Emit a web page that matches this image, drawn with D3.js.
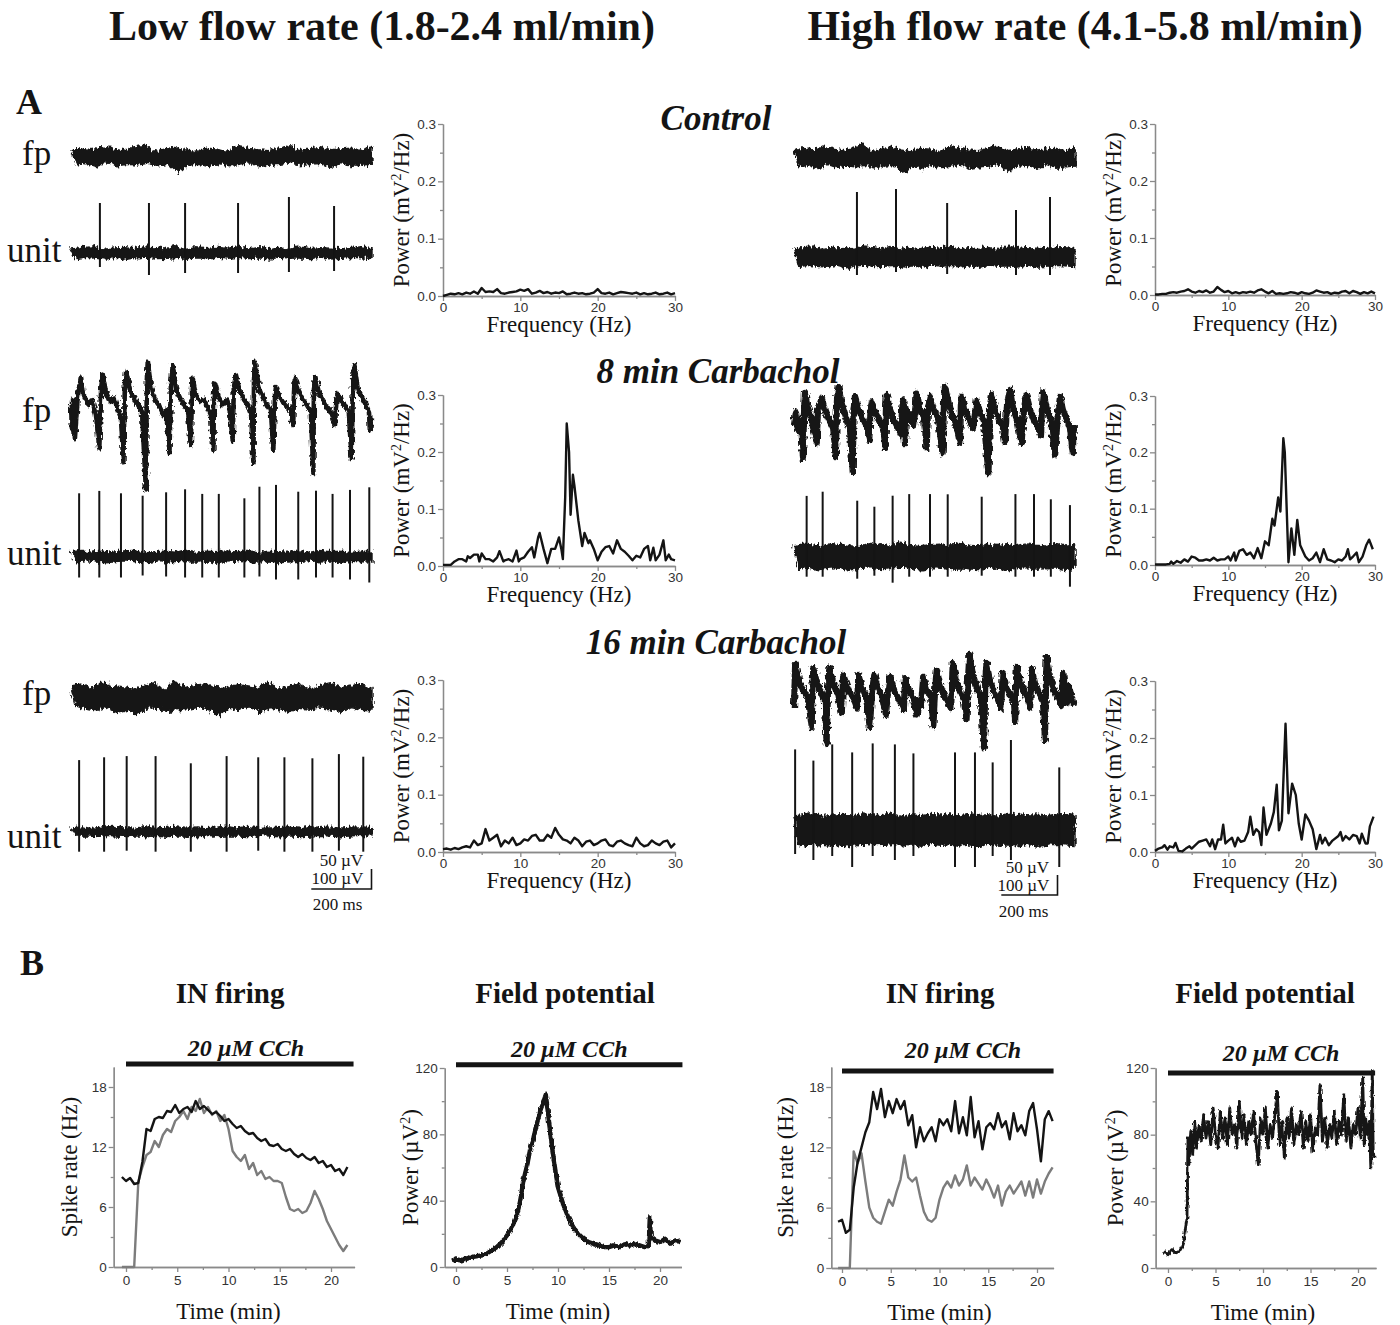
<!DOCTYPE html>
<html>
<head>
<meta charset="utf-8">
<title>Carbachol oscillations vs flow rate</title>
<script src="https://cdn.jsdelivr.net/npm/d3@7/dist/d3.min.js"></script>
<style>
  body { margin: 0; background: #fff; }
</style>
</head>
<body>
<svg id="fig" width="1400" height="1325"></svg>
<script>
// ---------- data ----------
// A: raw traces, 1 s sweeps, in uV.
// Noise bands: interleaved upper/lower envelope samples across the sweep.
var lowCtrlFp = [15,-20,22,-16,18,-24,26,-14,20,-22,16,-18,24,-20,30,-16,14,-22,20,-18,24,-40,18,-20,14,-18,22,-24,20,-16,12,-22,26,-18,22,-14,18,-24,16,-20,22,-18,28,-14,16,-22,20,-18,24,-16,18,-26,20,-14,22,-24,16,-20,24,-18];
var lowCtrlUnit = [20,-28,26,-22,30,-26,18,-30,24,-20,28,-32,22,-24,30,-20,26,-28,20,-26,32,-22,18,-28,26,-24,22,-30,28,-20,24,-26,30,-22,20,-28,26,-24,22,-30,28,-20,18,-26,30,-24,22,-28,26,-20,24,-30,20,-26,28,-22,30,-24,22,-28];
var lowCtrlSpikeT = [96, 259, 379, 555, 724, 874];
var lowCtrlSpikeUp = [250, 250, 250, 250, 280, 235];
var lowCtrlSpikeDown = [-70, -110, -100, -100, -95, -90];

var highCtrlFp = [18,-22,24,-18,20,-26,30,-16,22,-24,18,-20,26,-22,34,-18,16,-24,22,-20,28,-18,20,-36,16,-20,24,-26,22,-18,14,-24,28,-20,24,-16,20,-26,18,-22,24,-20,30,-16,18,-34,22,-20,26,-18,20,-28,22,-16,24,-26,18,-22,26,-20];
var highCtrlUnit = [40,-48,46,-42,50,-46,38,-52,44,-40,48,-54,42,-44,52,-40,46,-48,40,-46,54,-42,38,-50,46,-44,42,-52,48,-40,44,-46,52,-42,40,-50,46,-44,42,-52,48,-40,38,-46,54,-44,42,-50,46,-40,44,-52,40,-46,50,-42,52,-44,42,-48];
var highCtrlSpikeT = [224, 363, 545, 790, 911];
var highCtrlSpikeUp = [325, 340, 270, 235, 300];
var highCtrlSpikeDown = [-90, -75, -85, -90, -90];

var low8FpT = [0,3,7,13,23,33,43,56,70,83,94,100,105,116,130,143,156,166,174,179,183,196,209,223,236,249,252,255,266,279,292,306,316,327,332,338,349,362,375,389,398,402,404,415,429,442,455,465,473,475,478,492,505,518,528,537,541,548,561,575,588,598,606,608,611,625,638,651,664,672,678,681,694,711,728,738,741,744,757,771,784,797,805,807,811,824,837,850,864,877,882,886,897,910,923,932,937,941,953,967,980,990,993,1000];
var low8FpV = [20,-38,33,-63,45,88,45,20,33,-5,-88,58,98,53,28,38,8,-13,-123,70,103,58,38,20,3,-193,83,128,63,33,20,-5,8,-100,70,120,58,38,20,3,-80,58,88,45,28,33,13,-5,-93,45,75,38,20,33,3,-68,63,95,53,33,20,3,-125,83,128,63,38,20,8,-93,45,65,38,20,8,-30,53,88,53,33,20,3,-150,58,90,50,33,13,3,-30,33,50,28,20,3,-113,83,120,58,38,20,3,-43,-13];
var low8Unit = [24,-26,30,-20,22,-28,26,-32,20,-24,28,-22,30,-26,18,-30,24,-20,26,-28,22,-24,30,-26,20,-28,26,-22,24,-30,28,-20,22,-26,30,-24,18,-28,26,-22,24,-30,20,-26,28,-24,22,-20,30,-28,24,-22,26,-30,20,-24,28,-26,22,-28];
var low8SpikeT = [27, 94, 166, 238, 316, 379, 436, 491, 576, 626, 681, 755, 814, 869, 927, 991];
var low8SpikeUp = [316, 328, 316, 304, 321, 336, 313, 313, 291, 349, 358, 324, 329, 313, 333, 346];
var low8SpikeDown = [-105, -105, -105, -95, -100, -105, -105, -105, -105, -100, -115, -115, -105, -105, -115, -130];

var high8FpT = [0,7,14,25,32,36,39,50,61,71,81,85,99,110,125,139,149,153,158,171,185,199,209,212,217,231,246,260,268,272,277,288,303,317,326,327,330,342,356,370,381,384,389,395,399,413,427,432,437,448,463,472,477,484,498,513,529,534,537,552,566,580,591,594,597,609,623,637,646,650,662,676,692,698,704,715,730,744,751,758,769,779,794,810,819,828,840,854,868,879,883,887,900,915,929,940,947,957,972,982,992,996];
var high8FpV = [-13,20,-25,0,-95,25,68,30,5,-25,-58,25,55,25,0,-20,-93,50,83,38,5,-20,-130,25,60,25,0,-20,-50,20,45,20,0,-20,-70,25,63,25,0,-20,-38,25,50,-58,30,5,-13,30,68,30,0,-70,30,58,25,0,-83,50,83,38,5,-20,-58,38,58,25,0,-20,25,50,20,-5,-133,38,63,25,0,-20,-55,38,75,30,0,-58,30,63,25,0,-20,-38,38,70,30,0,-88,25,58,25,0,-20,-83,-13];
var high8Unit = [55,-60,62,-52,58,-66,50,-58,64,-54,60,-70,52,-62,58,-50,66,-60,54,-64,60,-56,72,-52,56,-62,50,-66,60,-54,62,-58,52,-64,68,-56,58,-60,54,-66,62,-52,56,-62,60,-70,50,-58,64,-54,58,-62,54,-60,66,-56,60,-64,52,-58];
var high8SpikeT = [45, 102, 225, 286, 351, 410, 484, 547, 668, 788, 854, 914, 982];
var high8SpikeUp = [304, 325, 280, 250, 305, 313, 313, 312, 300, 313, 313, 287, 258];
var high8SpikeDown = [-100, -100, -110, -95, -130, -100, -100, -100, -95, -100, -100, -100, -150];

var low16Fp = [30,-20,35,-28,24,-32,40,-22,28,-36,26,-30,22,-40,30,-24,38,-26,20,-34,42,-28,26,-30,32,-22,36,-30,28,-44,24,-26,34,-28,30,-22,26,-36,40,-24,22,-30,28,-34,36,-26,24,-28,32,-22,38,-30,26,-34,30,-24,36,-28,24,-30];
var low16Unit = [18,-22,24,-20,16,-24,22,-18,26,-22,20,-24,18,-20,24,-26,22,-18,20,-24,26,-20,18,-22,24,-26,20,-18,22,-24,28,-20,18,-22,26,-24,20,-18,24,-22,20,-26,22,-20,18,-24,26,-22,20,-18,24,-22,18,-26,22,-20,24,-18,20,-22];
var low16SpikeT = [27, 110, 185, 281, 398, 517, 622, 709, 802, 890, 971];
var low16SpikeUp = [358, 372, 378, 378, 342, 378, 372, 372, 367, 388, 375];
var low16SpikeDown = [-100, -100, -95, -100, -100, -100, -95, -100, -100, -95, -100];

var high16FpT = [0,4,18,32,50,63,66,69,82,96,110,116,121,126,139,153,170,173,175,189,203,217,224,229,242,256,270,278,286,299,313,327,335,342,356,370,384,391,395,409,423,437,441,452,460,473,488,496,502,508,520,534,548,559,565,577,591,605,614,619,624,637,651,665,676,681,685,697,712,726,737,743,754,769,783,787,790,793,804,819,833,840,846,858,872,886,893,897,899,911,925,940,950,958,971,975,989,996];
var high16FpV = [-45,63,25,0,-20,-93,13,55,20,-5,-25,-133,0,55,20,-5,-58,0,38,10,-13,-30,-45,38,5,-15,-93,0,38,5,-15,-63,0,33,0,-20,-38,-50,30,0,-20,-63,-25,-38,33,0,-20,-88,0,50,13,-13,-33,-45,68,25,-5,-25,-75,25,88,38,5,-20,-143,25,68,25,-5,-25,-45,43,10,-13,-30,-80,13,58,20,-5,-25,-45,55,15,-10,-30,-125,25,83,33,0,-20,-40,43,-33,13,-20,-38];
var high16Unit = [70,-78,76,-70,82,-74,68,-80,74,-72,78,-84,70,-74,80,-70,76,-78,72,-76,84,-72,68,-80,76,-74,72,-82,78,-70,74,-76,82,-72,70,-80,76,-74,72,-82,78,-70,68,-76,84,-74,72,-80,76,-70,74,-82,70,-76,80,-72,82,-74,72,-78];
var high16SpikeT = [4, 69, 136, 207, 280, 359, 425, 573, 644, 707, 772, 944];
var high16SpikeUp = [403, 347, 428, 388, 433, 428, 383, 388, 388, 338, 450, 313];
var high16SpikeDown = [-120, -150, -130, -185, -130, -150, -130, -185, -185, -130, -150, -185];

var scaleBarFpUv = 50, scaleBarUnitUv = 100, scaleBarMs = 200;

// A: power spectra (Hz, mV^2/Hz)
var halfHz = [0,0.5,1,1.5,2,2.5,3,3.5,4,4.5,5,5.5,6,6.5,7,7.5,8,8.5,9,9.5,10,10.5,11,11.5,12,12.5,13,13.5,14,14.5,15,15.5,16,16.5,17,17.5,18,18.5,19,19.5,20,20.5,21,21.5,22,22.5,23,23.5,24,24.5,25,25.5,26,26.5,27,27.5,28,28.5,29,29.5,30];
var lowCtrlPow = [0,0.002,0.004,0.003,0.005,0.003,0.006,0.004,0.008,0.004,0.014,0.007,0.008,0.007,0.012,0.005,0.004,0.006,0.007,0.008,0.011,0.009,0.012,0.004,0.006,0.009,0.005,0.007,0.004,0.006,0.005,0.008,0.003,0.004,0.006,0.004,0.005,0.003,0.004,0.006,0.012,0.005,0.004,0.006,0.003,0.005,0.007,0.006,0.005,0.004,0.006,0.003,0.005,0.003,0.004,0.006,0.003,0.004,0.006,0.003,0.005];
var highCtrlPow = [0.001,0.001,0.002,0.002,0.004,0.005,0.004,0.006,0.007,0.010,0.006,0.004,0.007,0.005,0.008,0.004,0.006,0.014,0.009,0.005,0.007,0.003,0.005,0.003,0.005,0.004,0.006,0.004,0.008,0.010,0.006,0.003,0.007,0.002,0.003,0.002,0.003,0.005,0.004,0.002,0.005,0.003,0.002,0.004,0.008,0.006,0.004,0.005,0.002,0.004,0.003,0.006,0.007,0.003,0.007,0.005,0.002,0.005,0.003,0.006,0.003];
var low16Pow = [0.005,0.006,0.004,0.007,0.005,0.008,0.01,0.008,0.02,0.012,0.015,0.04,0.02,0.025,0.03,0.01,0.02,0.015,0.025,0.012,0.015,0.022,0.02,0.028,0.03,0.02,0.02,0.03,0.025,0.042,0.03,0.022,0.02,0.015,0.025,0.02,0.01,0.018,0.02,0.012,0.015,0.02,0.022,0.012,0.01,0.018,0.02,0.015,0.012,0.01,0.025,0.015,0.01,0.012,0.02,0.015,0.012,0.018,0.02,0.008,0.015];
var low8Freq = [0,0.5,1,1.5,2,2.5,3,3.2,3.5,4,4.5,4.7,5,5.5,6,6.5,7,7.3,7.8,8,8.5,9,9.5,9.8,10,10.5,11,11.5,11.8,12.3,12.5,13,13.5,14,14.5,15,15.3,15.5,15.8,16,16.3,16.5,16.8,17,17.5,18,18.3,18.8,19,19.5,20,20.5,21,21.5,22,22.5,23,23.5,24,24.5,25,25.5,26,26.5,26.8,27.2,27.5,28,28.5,28.8,29.2,29.5,30];
var low8Pow = [0.002,0.002,0.002,0.008,0.012,0.012,0.008,0.017,0.014,0.02,0.02,0.008,0.022,0.012,0.012,0.008,0.015,0.026,0.008,0.01,0.012,0.008,0.027,0.008,0.012,0.015,0.025,0.033,0.015,0.05,0.058,0.03,0.005,0.03,0.03,0.05,0.03,0.012,0.12,0.25,0.2,0.09,0.16,0.14,0.08,0.035,0.058,0.04,0.045,0.03,0.01,0.025,0.033,0.035,0.022,0.045,0.03,0.025,0.018,0.01,0.018,0.015,0.03,0.035,0.01,0.032,0.01,0.02,0.045,0.01,0.02,0.012,0.01];
var high8Freq = [0,0.5,1,1.5,2,2.2,2.5,3,3.5,4,4.5,5,5.5,6,6.5,7,7.5,8,8.5,9,9.5,10,10.3,10.8,11,11.5,12,12.5,13,13.5,14,14.5,15,15.5,16,16.3,16.8,17.1,17.5,17.7,18.2,18.6,19,19.4,19.8,20.5,21,21.5,22,22.5,23,23.5,24,24.5,25,25.5,26,26.3,26.6,27,27.5,27.8,28.3,28.8,29.2,29.7];
var high8Pow = [0.001,0.001,0.001,0.001,0.002,0.006,0.002,0.007,0.004,0.01,0.006,0.015,0.013,0.008,0.008,0.01,0.008,0.013,0.008,0.01,0.01,0.015,0.008,0.022,0.008,0.025,0.028,0.018,0.022,0.012,0.03,0.012,0.042,0.035,0.082,0.07,0.12,0.095,0.225,0.2,0.005,0.065,0.018,0.08,0.035,0.015,0.008,0.012,0.022,0.005,0.028,0.01,0.008,0.005,0.01,0.008,0.015,0.028,0.01,0.015,0.022,0.005,0.015,0.035,0.045,0.028];
var high16Freq = [0,0.5,1,1.3,1.7,2,2.5,2.8,3.2,3.7,4.2,4.7,5,5.5,6,6.5,7,7.5,7.8,8.2,8.6,9,9.3,9.6,10,10.5,10.9,11.3,11.7,12.2,12.7,13,13.4,13.8,14.2,14.5,14.8,15.2,15.8,16.2,16.6,16.9,17.3,17.8,18.2,18.7,19.2,19.6,20,20.5,21,21.5,22,22.5,22.8,23.2,23.7,24.2,25,25.3,25.6,26,26.5,27,27.5,27.9,28.2,28.7,29,29.3,29.8];
var high16Pow = [0.002,0.006,0.008,0.012,0.004,0.01,0.008,0.016,0.002,0.001,0.006,0.01,0.006,0.012,0.018,0.02,0.022,0.01,0.022,0.005,0.022,0.022,0.048,0.015,0.02,0.025,0.01,0.025,0.018,0.02,0.035,0.062,0.03,0.04,0.035,0.012,0.078,0.03,0.05,0.07,0.118,0.038,0.055,0.225,0.068,0.12,0.1,0.05,0.022,0.066,0.055,0.04,0.005,0.03,0.015,0.025,0.012,0.02,0.028,0.035,0.02,0.028,0.022,0.03,0.028,0.015,0.032,0.015,0.015,0.045,0.062];

// B: time courses (min)
var rateTime = [-0.4,0,0.4,0.8,1.2,1.6,2,2.4,2.8,3.2,3.6,4,4.4,4.8,5.2,5.6,6,6.4,6.8,7.2,7.6,8,8.4,8.8,9.2,9.6,10,10.4,10.8,11.2,11.6,12,12.4,12.8,13.2,13.6,14,14.4,14.8,15.2,15.6,16,16.4,16.8,17.2,17.6,18,18.4,18.8,19.2,19.6,20,20.4,20.8,21.2,21.6];
var lowRateBlack = [9.0,8.6,8.9,8.3,8.4,10.5,13.8,13.6,14.8,15.0,14.9,15.6,15.5,16.2,15.4,15.8,16.0,15.5,16.6,15.8,16.1,15.7,15.3,15.5,15.1,14.6,14.8,14.3,13.9,14.1,13.6,13.3,13.4,12.9,12.6,12.8,12.2,12.1,12.3,11.8,11.6,11.8,11.3,11.0,11.3,10.9,10.7,11.0,10.4,10.6,10.0,10.2,9.6,9.8,9.2,10.0];
var lowRateGray = [0,0,0,0,8.5,10.0,11.2,11.5,12.6,12.0,13.2,13.8,13.5,14.6,15.0,15.6,14.8,16.0,15.6,16.8,15.4,16.0,15.2,15.6,14.6,15.2,13.8,11.6,11.0,10.6,11.2,9.8,10.4,9.2,9.6,8.8,9.0,8.6,8.6,8.4,7.0,5.8,5.6,5.8,5.4,5.6,6.4,7.6,6.8,5.8,4.6,3.8,3.0,2.2,1.6,2.2];
var highRateBlack = [4.6,4.8,3.5,3.8,8.0,10.5,12.0,13.5,14.5,17.5,15.8,17.8,15.0,16.6,15.4,16.8,15.8,16.6,14.2,15.2,12.0,14.0,12.6,13.4,14.0,12.6,14.8,14.2,14.8,13.6,16.6,13.4,15.0,13.2,17.0,13.0,14.6,11.8,14.0,14.4,13.8,15.4,14.0,14.6,12.8,15.4,13.6,14.2,13.2,15.6,16.4,13.8,10.6,14.8,15.6,14.6];
var highRateGray = [0,0,0,0,11.6,10.4,11.4,8.6,6.0,5.0,4.6,4.4,5.6,6.8,6.2,7.6,8.8,11.2,9.0,8.6,9.0,7.2,5.6,4.8,4.6,5.0,6.8,8.0,8.6,8.0,9.2,8.2,8.8,10.2,8.2,9.0,8.4,7.8,8.8,8.0,7.0,8.2,6.2,7.6,8.2,7.4,8.0,8.6,7.2,8.6,7.0,8.8,7.4,8.6,9.4,10.0];
var lowFpTime = [-0.4,0,0.5,1,1.5,2,2.5,3,3.5,4,4.5,5,5.5,6,6.3,6.6,7,7.3,7.6,8,8.3,8.6,8.8,9,9.3,9.6,10,10.5,11,11.5,12,12.5,13,13.5,14,14.5,15,15.5,16,16.5,17,17.5,18,18.5,18.9,19.0,19.1,19.5,20,20.5,21,21.5,22];
var lowFpPower = [4,4.5,4,5,6,6.5,7,8,10,12,15,19,24,32,40,52,62,72,78,88,95,100,104,94,78,64,48,38,30,24,20,17,15,14,13,12,12,13,12,14,13,14,13,12,13,30,18,16,15,17,14,16,15];
var highFpTime = [-0.4,0,0.4,0.8,1.2,1.6,1.8,2.0,2.1,2.2,2.4,2.6,2.8,3.0,3.25,3.5,3.75,4.0,4.25,4.5,4.75,5.0,5.25,5.5,5.75,6.0,6.25,6.5,6.75,7.0,7.25,7.5,7.75,8.0,8.25,8.5,8.75,9.0,9.25,9.5,9.75,10.0,10.25,10.5,10.75,11.0,11.25,11.5,11.75,12.0,12.25,12.5,12.75,13.0,13.25,13.5,13.75,14.0,14.25,14.5,14.75,15.0,15.25,15.5,15.75,16.0,16.25,16.5,16.75,17.0,17.25,17.5,17.75,18.0,18.25,18.5,18.75,19.0,19.25,19.5,19.75,20.0,20.25,20.5,20.65,20.8,21.0,21.2,21.35,21.5,21.6,21.7];
var highFpPower = [10,8,11,9,10,14,22,30,78,62,82,68,88,72,85,76,92,78,88,74,96,80,72,94,78,90,74,96,80,86,72,100,78,92,74,88,80,94,76,62,90,80,96,72,86,78,92,106,74,88,66,90,78,96,74,86,80,94,72,88,76,92,70,84,80,110,76,90,72,86,78,94,74,88,80,104,76,90,72,86,80,96,78,114,74,90,80,88,60,118,70,66];
var cchStart = 0, lowCchEnd = 22.2, highCchEnd = 21.8;

// ---------- drawing ----------
var serif = "'Liberation Serif','Times New Roman',serif";
var sans = "'Liberation Sans',Arial,sans-serif";
var ink = "#141414", axisGray = "#8a8a8a", grayLine = "#7c7c7c";
var svg = d3.select("#fig");

// rough edge texture for the recorded traces (display style only)
var defs = svg.append("defs");
function roughFilter(id, scale, freq) {
  var f = defs.append("filter").attr("id", id)
    .attr("x", "-3%").attr("y", "-40%").attr("width", "106%").attr("height", "180%");
  f.append("feTurbulence").attr("type", "fractalNoise").attr("baseFrequency", freq)
    .attr("numOctaves", 2).attr("seed", 7).attr("result", "n");
  f.append("feDisplacementMap").attr("in", "SourceGraphic").attr("in2", "n")
    .attr("scale", scale).attr("xChannelSelector", "R").attr("yChannelSelector", "G");
}
roughFilter("rough", 8, "0.45 0.12");
roughFilter("roughWave", 6, "0.5 0.2");
roughFilter("roughLite", 4, "0.6 0.2");

function label(x, y, txt, size, weight, style, anchor) {
  return svg.append("text").attr("x", x).attr("y", y).text(txt)
    .attr("font-family", serif).attr("font-size", size)
    .attr("font-weight", weight || "normal").attr("font-style", style || "normal")
    .attr("text-anchor", anchor || "middle").attr("fill", ink);
}

// titles
label(382, 40, "Low flow rate (1.8-2.4 ml/min)", 42, "bold");
label(1085, 40, "High flow rate (4.1-5.8 ml/min)", 42, "bold");
label(16, 114, "A", 36, "bold", null, "start");
label(20, 975, "B", 36, "bold", null, "start");
label(716, 130, "Control", 35, "bold", "italic");
label(718, 383, "8 min Carbachol", 35, "bold", "italic");
label(716, 654, "16 min Carbachol", 35, "bold", "italic");

[[165, 262], [422, 565], [705, 848]].forEach(function(r) {
  label(22, r[0], "fp", 35, null, null, "start");
  label(7, r[1], "unit", 35, null, null, "start");
});

// trace scales
var FP_UV_PX = 2.5, UNIT_UV_PX = 5;
function traceScale(cols, base, uvPerPx) {
  return {
    x: d3.scaleLinear().domain([0, 1000]).range(cols),
    y: d3.scaleLinear().domain([0, 100]).range([base, base - 100 / uvPerPx])
  };
}
// noise band: even samples = upper envelope, odd samples = lower envelope
function band(s, vals) {
  var n = vals.length / 2 - 1, upper = [], lower = [];
  for (var j = 0; j <= n; j++) {
    upper.push([s.x(j * 1000 / n), s.y(vals[2 * j])]);
    lower.push([s.x((j + 0.5) * 1000 / (n + 0.5)), s.y(vals[2 * j + 1])]);
  }
  var pts = upper.concat(lower.reverse());
  svg.append("path").attr("d", d3.line()(pts) + "Z")
    .attr("fill", ink).attr("stroke", ink).attr("stroke-width", 1.4)
    .attr("stroke-linejoin", "miter").attr("filter", "url(#rough)");
}
function wave(s, ts, vs, w) {
  var line = d3.line().x(function(d) { return s.x(d); }).y(function(d, i) { return s.y(vs[i]); });
  var d = line(ts);
  svg.append("path").attr("d", d).attr("fill", "none")
    .attr("stroke", ink).attr("stroke-width", w - 1.8).attr("stroke-linejoin", "round");
  svg.append("path").attr("d", d).attr("fill", "none")
    .attr("stroke", ink).attr("stroke-width", w).attr("stroke-linejoin", "round")
    .attr("filter", "url(#roughWave)");
}
function spikes(s, ts, up, down) {
  svg.append("g").selectAll("line").data(ts).enter().append("line")
    .attr("x1", function(d) { return s.x(d); }).attr("x2", function(d) { return s.x(d); })
    .attr("y1", function(d, i) { return s.y(up[i]); })
    .attr("y2", function(d, i) { return s.y(down[i]); })
    .attr("stroke", ink).attr("stroke-width", 2);
}

var lowCols = [71, 372], highCols = [794, 1075];

// row 1 control
band(traceScale(lowCols, 157, FP_UV_PX), lowCtrlFp);
var s = traceScale(lowCols, 253, UNIT_UV_PX);
band(s, lowCtrlUnit); spikes(s, lowCtrlSpikeT, lowCtrlSpikeUp, lowCtrlSpikeDown);
band(traceScale(highCols, 158, FP_UV_PX), highCtrlFp);
s = traceScale(highCols, 257, UNIT_UV_PX);
band(s, highCtrlUnit); spikes(s, highCtrlSpikeT, highCtrlSpikeUp, highCtrlSpikeDown);

// row 2 8 min
wave(traceScale(lowCols, 413, FP_UV_PX), low8FpT, low8FpV, 4.6);
s = traceScale(lowCols, 556.5, UNIT_UV_PX);
band(s, low8Unit); spikes(s, low8SpikeT, low8SpikeUp, low8SpikeDown);
wave(traceScale(highCols, 420, FP_UV_PX), high8FpT, high8FpV, 6.2);
s = traceScale(highCols, 556.7, UNIT_UV_PX);
band(s, high8Unit); spikes(s, high8SpikeT, high8SpikeUp, high8SpikeDown);

// row 3 16 min
band(traceScale(lowCols, 698, FP_UV_PX), low16Fp);
s = traceScale(lowCols, 831.7, UNIT_UV_PX);
band(s, low16Unit); spikes(s, low16SpikeT, low16SpikeUp, low16SpikeDown);
wave(traceScale(highCols, 690, FP_UV_PX), high16FpT, high16FpV, 6.2);
s = traceScale(highCols, 830, UNIT_UV_PX);
band(s, high16Unit); spikes(s, high16SpikeT, high16SpikeUp, high16SpikeDown);

// scale bars
function scaleBar(cols, right, bottom, labY) {
  var sx = traceScale(cols, bottom, FP_UV_PX);
  var left = right - (sx.x(scaleBarMs) - sx.x(0));
  var top = sx.y(scaleBarFpUv);
  svg.append("path").attr("d", "M" + left + "," + bottom + "H" + right + "V" + top)
    .attr("fill", "none").attr("stroke", ink).attr("stroke-width", 1.6);
  label(right - 30, labY[0], scaleBarFpUv + " \u00b5V", 17);
  label(right - 34, labY[1], scaleBarUnitUv + " \u00b5V", 17);
  label(right - 34, labY[2], scaleBarMs + " ms", 17);
}
scaleBar(lowCols, 371.5, 889, [866, 884, 910]);
scaleBar(highCols, 1057.5, 895, [873, 891, 917]);

// axis styling
function styleAxis(g) {
  g.attr("font-family", sans).attr("font-size", 13.5);
  g.select(".domain").attr("stroke", axisGray).attr("stroke-width", 1.3);
  g.selectAll(".tick line").attr("stroke", axisGray).attr("stroke-width", 1.3);
  g.selectAll(".tick text").attr("fill", "#333");
}

// spectra
function spectrum(xr, yTop, yBot, fr, pw) {
  var x = d3.scaleLinear().domain([0, 30]).range(xr);
  var y = d3.scaleLinear().domain([0, 0.3]).range([yBot, yTop]);
  var g = svg.append("g");
  g.append("g").attr("transform", "translate(0," + yBot + ")")
    .call(d3.axisBottom(x).tickValues([5, 15, 25]).tickSize(3).tickSizeOuter(0).tickFormat("")).call(styleAxis);
  g.append("g").attr("transform", "translate(0," + yBot + ")")
    .call(d3.axisBottom(x).tickValues([0, 10, 20, 30]).tickSize(5).tickSizeOuter(0).tickPadding(1).tickFormat(d3.format("d"))).call(styleAxis);
  g.append("g").attr("transform", "translate(" + xr[0] + ",0)")
    .call(d3.axisLeft(y).tickValues([0.05, 0.15, 0.25]).tickSize(3).tickSizeOuter(0).tickFormat("")).call(styleAxis);
  g.append("g").attr("transform", "translate(" + xr[0] + ",0)")
    .call(d3.axisLeft(y).tickValues([0, 0.1, 0.2, 0.3]).tickSize(5).tickSizeOuter(0).tickPadding(2).tickFormat(d3.format(".1f"))).call(styleAxis);
  var line = d3.line().x(function(d) { return x(d); }).y(function(d, i) { return y(pw[i]); });
  g.append("path").attr("d", line(fr)).attr("fill", "none").attr("stroke", ink)
    .attr("stroke-width", 2.4).attr("stroke-linejoin", "round");
  var yl = g.append("text").attr("transform", "translate(" + (xr[0] - 34) + "," + ((yTop + yBot) / 2) + ") rotate(-90)")
    .attr("text-anchor", "middle").attr("font-family", serif).attr("font-size", 23).attr("fill", ink);
  yl.append("tspan").text("Power (mV");
  yl.append("tspan").attr("dy", -8).attr("font-size", 14).text("2");
  yl.append("tspan").attr("dy", 8).text("/Hz)");
  g.append("text").attr("x", (xr[0] + xr[1]) / 2).attr("y", yBot + 36).text("Frequency (Hz)")
    .attr("text-anchor", "middle").attr("font-family", serif).attr("font-size", 23).attr("fill", ink);
}
var lowSpecX = [443, 675], highSpecX = [1155, 1375];
spectrum(lowSpecX, 124, 296, halfHz, lowCtrlPow);
spectrum(highSpecX, 124, 295, halfHz, highCtrlPow);
spectrum(lowSpecX, 395, 566, low8Freq, low8Pow);
spectrum(highSpecX, 396, 565, high8Freq, high8Pow);
spectrum(lowSpecX, 680, 852, halfHz, low16Pow);
spectrum(highSpecX, 681, 852, high16Freq, high16Pow);

// B panels
function timePanel(o) {
  var x = d3.scaleLinear().domain([0, 20]).range([o.x0, o.x20]);
  var y = d3.scaleLinear().domain([0, o.yRef]).range([o.y0, o.yRefPx]);
  var xa = d3.scaleLinear().domain([o.xMin, o.xMax]).range([x(o.xMin), x(o.xMax)]);
  var ya = d3.scaleLinear().domain([0, o.yMax]).range([y(0), y(o.yMax)]);
  var g = svg.append("g");
  g.append("g").attr("transform", "translate(0," + o.y0 + ")")
    .call(d3.axisBottom(xa).tickValues([2.5, 7.5, 12.5, 17.5]).tickSize(3).tickSizeOuter(0).tickFormat("")).call(styleAxis);
  g.append("g").attr("transform", "translate(0," + o.y0 + ")")
    .call(d3.axisBottom(xa).tickValues([0, 5, 10, 15, 20]).tickSize(5).tickSizeOuter(0).tickPadding(3).tickFormat(d3.format("d"))).call(styleAxis);
  g.append("g").attr("transform", "translate(" + x(o.xMin) + ",0)")
    .call(d3.axisLeft(ya).tickValues(o.yMinor).tickSize(3).tickSizeOuter(0).tickFormat("")).call(styleAxis);
  g.append("g").attr("transform", "translate(" + x(o.xMin) + ",0)")
    .call(d3.axisLeft(ya).tickValues(o.yTicks).tickSize(5).tickSizeOuter(0).tickPadding(2).tickFormat(d3.format("d"))).call(styleAxis);
  // drug application bar
  g.append("line").attr("x1", x(cchStart)).attr("x2", x(o.cchEnd))
    .attr("y1", y(o.barAt)).attr("y2", y(o.barAt)).attr("stroke", ink).attr("stroke-width", 5);
  g.append("text").attr("x", x(o.cchTextAt)).attr("y", o.cchTextY).attr("text-anchor", "middle")
    .attr("font-family", serif).attr("font-size", 24).attr("font-weight", "bold").attr("font-style", "italic")
    .attr("fill", ink).text("20 \u00b5M CCh");
  label(x(10), o.y0 + 52, "Time (min)", 23);
  label(o.titleX, 1003, o.title, 29, "bold");
  var yl = g.append("text").attr("transform", "translate(" + (x(o.xMin) - o.ylOff) + "," + ((y(0) + ya(o.yMax)) / 2) + ") rotate(-90)")
    .attr("text-anchor", "middle").attr("font-family", serif).attr("font-size", 23).attr("fill", ink);
  if (o.power) {
    yl.append("tspan").text("Power (\u00b5V");
    yl.append("tspan").attr("dy", -8).attr("font-size", 14).text("2");
    yl.append("tspan").attr("dy", 8).text(")");
  } else {
    yl.text("Spike rate (Hz)");
  }
  return { x: x, y: y, g: g };
}
function series(p, ts, vs, color, w, rough) {
  var line = d3.line().x(function(d) { return p.x(d); }).y(function(d, i) { return p.y(vs[i]); });
  var d = line(ts);
  p.g.append("path").attr("d", d).attr("fill", "none").attr("stroke", color)
    .attr("stroke-width", rough ? w - 1.2 : w).attr("stroke-linejoin", "round");
  if (rough) {
    p.g.append("path").attr("d", d).attr("fill", "none").attr("stroke", color)
      .attr("stroke-width", w).attr("stroke-linejoin", "round").attr("filter", "url(#roughLite)");
  }
}

var b1 = timePanel({ x0: 126, x20: 331, y0: 1267, yRef: 18, yRefPx: 1087, xMin: -1.2, xMax: 22.3, yMax: 20,
  yTicks: [0, 6, 12, 18], yMinor: [3, 9, 15], cchEnd: lowCchEnd, barAt: 20.3, cchTextAt: 11.7, cchTextY: 1056,
  title: "IN firing", titleX: 230, ylOff: 37 });
series(b1, rateTime, lowRateGray, grayLine, 2.4);
series(b1, rateTime, lowRateBlack, ink, 2.4);

var b2 = timePanel({ x0: 456, x20: 660, y0: 1267, yRef: 120, yRefPx: 1068, xMin: -1.1, xMax: 22.1, yMax: 120,
  yTicks: [0, 40, 80, 120], yMinor: [20, 60, 100], cchEnd: lowCchEnd, barAt: 122, cchTextAt: 11.1, cchTextY: 1057,
  title: "Field potential", titleX: 565, ylOff: 27, power: true });
series(b2, lowFpTime, lowFpPower, ink, 4.4, true);

var b3 = timePanel({ x0: 842, x20: 1037, y0: 1268, yRef: 18, yRefPx: 1087, xMin: -1.1, xMax: 21.7, yMax: 20,
  yTicks: [0, 6, 12, 18], yMinor: [3, 9, 15], cchEnd: 21.7, barAt: 19.6, cchTextAt: 12.4, cchTextY: 1058,
  title: "IN firing", titleX: 940, ylOff: 38 });
series(b3, rateTime, highRateGray, grayLine, 2.4);
series(b3, rateTime, highRateBlack, ink, 2.4);

var b4 = timePanel({ x0: 1168, x20: 1358, y0: 1268, yRef: 120, yRefPx: 1068, xMin: -1.3, xMax: 21.9, yMax: 120,
  yTicks: [0, 40, 80, 120], yMinor: [20, 60, 100], cchEnd: highCchEnd, barAt: 117, cchTextAt: 11.9, cchTextY: 1061,
  title: "Field potential", titleX: 1265, ylOff: 33, power: true });
series(b4, highFpTime, highFpPower, ink, 2.8, true);
</script>
</body>
</html>
